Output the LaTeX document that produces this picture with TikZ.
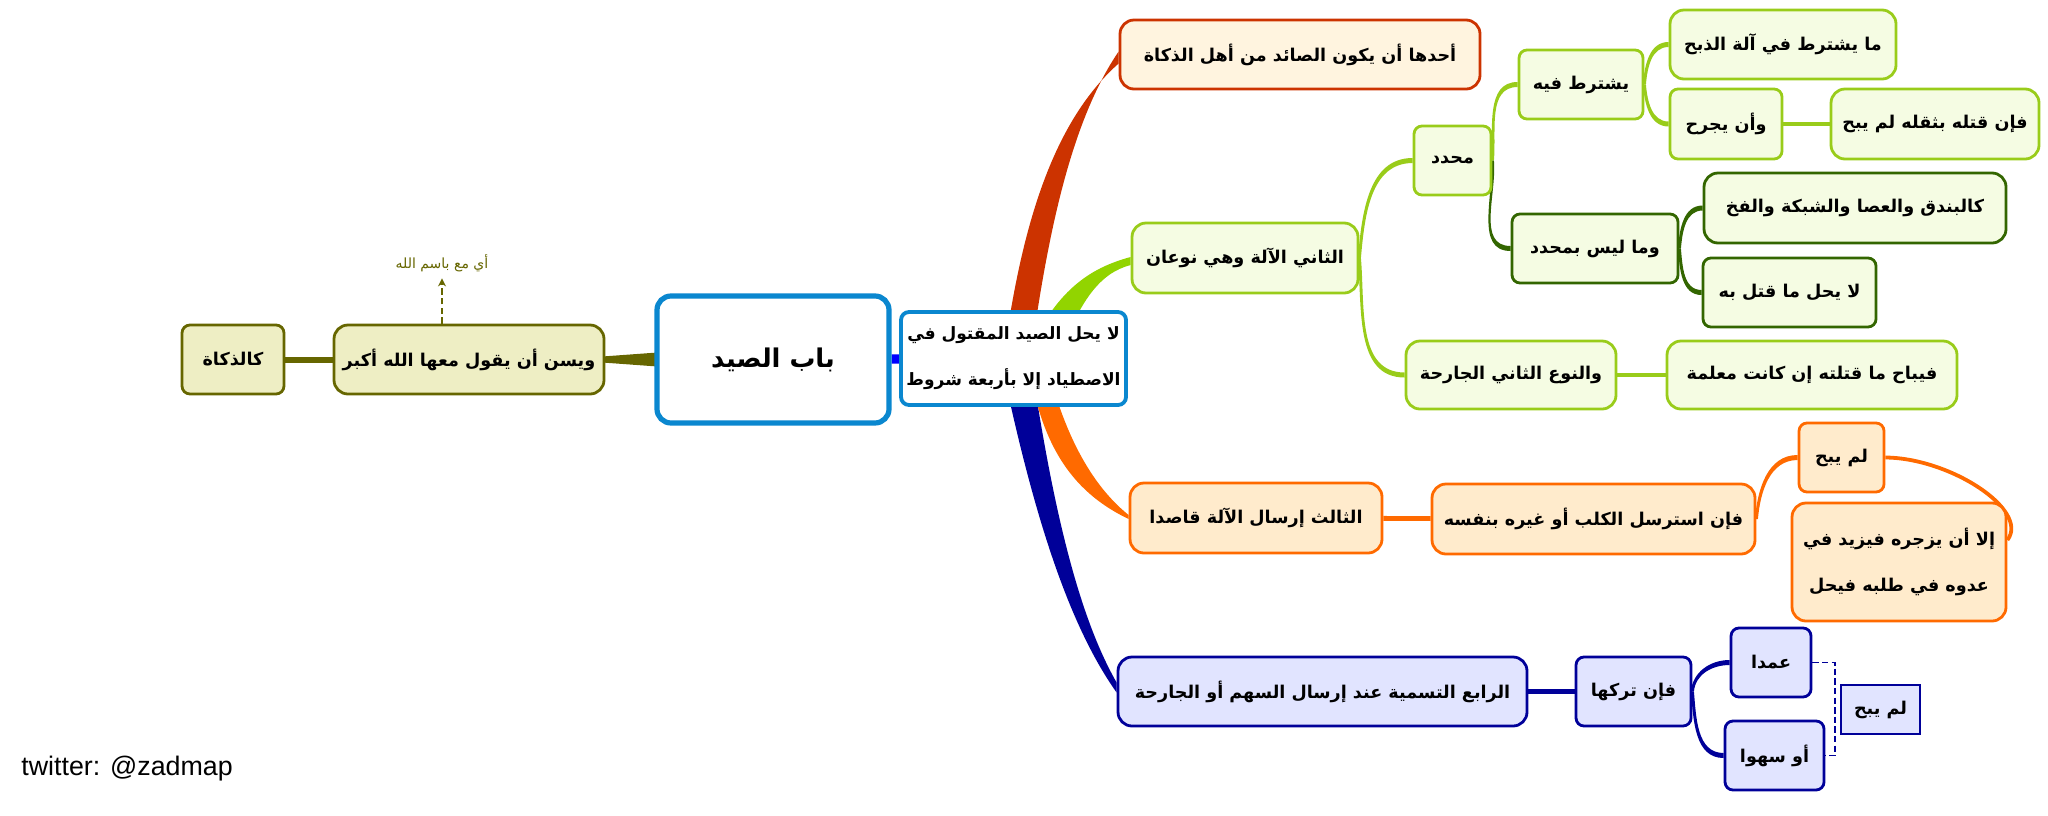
\documentclass[tikz,border=0pt]{standalone}
\usepackage{fontspec}
\setmainfont{Liberation Sans}
\newfontfamily\arabicfont[Script=Arabic]{DejaVu Sans}
\TeXXeTstate=1
\usetikzlibrary{positioning, arrows.meta, calc, backgrounds}
\newcommand{\artext}[1]{{\arabicfont\bfseries\beginR #1\endR}}
\newcommand{\twigup}[3]{\fill[#1] ($(#2)+(-1.5,0)$) to[out=85,in=180] ($(#3)+(0,-2.5)$) -- ($(#3)+(0,2.5)$) to[out=180,in=85] ($(#2)+(1.5,0)$) -- cycle;}
\newcommand{\twigdown}[3]{\fill[#1] ($(#2)+(-1.5,0)$) to[out=-85,in=180] ($(#3)+(0,2.5)$) -- ($(#3)+(0,-2.5)$) to[out=180,in=-85] ($(#2)+(1.5,0)$) -- cycle;}
\definecolor{rootblue}{HTML}{0A87CF}
\definecolor{redline}{HTML}{CC3300}
\definecolor{redfill}{HTML}{FFF4DF}
\definecolor{limeline}{HTML}{99CC1A}
\definecolor{limeband}{HTML}{92D400}
\definecolor{limefill}{HTML}{F5FCE3}
\definecolor{darkline}{HTML}{336600}
\definecolor{orangeline}{HTML}{FF6A00}
\definecolor{orangefill}{HTML}{FFEBCC}
\definecolor{navyline}{HTML}{000099}
\definecolor{navyfill}{HTML}{E1E4FF}
\definecolor{oliveline}{HTML}{666600}
\definecolor{olivefill}{HTML}{EEEEC4}
\tikzset{
  boxsize/.style 2 args={
    minimum width=#1*0.5pt,
    minimum height=#2*0.5pt
  },
  topic/.style={
    draw,
    rectangle,
    rounded corners=7pt,
    line width=1.4pt,
    inner sep=0pt,
    align=center,
    font=\fontsize{8.8}{23}\selectfont
  },
  smallbox/.style={rounded corners=4pt},
  redbox/.style={topic, draw=redline, fill=redfill},
  limebox/.style={topic, draw=limeline, fill=limefill},
  darkbox/.style={topic, draw=darkline, fill=limefill},
  orangebox/.style={topic, draw=orangeline, fill=orangefill},
  navybox/.style={topic, draw=navyline, fill=navyfill},
  olivebox/.style={topic, draw=oliveline, fill=olivefill},
  notelink/.style={line width=0.8pt, dash pattern=on 3.2pt off 1.6pt}
}

\begin{document}
\begin{tikzpicture}[x=0.5pt, y=-0.5pt]
        \useasboundingbox (0,0) rectangle (2048,815);

        \node[topic, draw=rootblue, fill=white, line width=2.6pt, boxsize={232}{127}, font=\fontsize{12.9}{20}\selectfont] (root) at (773,359.5) {\artext{باب الصيد}};
        \node[topic, draw=rootblue, fill=white, line width=1.9pt, smallbox, boxsize={225}{93}, font=\fontsize{8.5}{23}\selectfont] (main) at (1013.5,358.5) {\artext{لا يحل الصيد المقتول في}\\\artext{الاصطياد إلا بأربعة شروط}};

        \node[redbox, boxsize={360}{69}] (first) at (1300,54.5) {\artext{أحدها أن يكون الصائد من أهل الذكاة}};

        \node[limebox, boxsize={226}{70}] (second) at (1245,258) {\artext{الثاني الآلة وهي نوعان}};
        \node[limebox, smallbox, boxsize={77}{69}] (sharp) at (1452.5,160.5) {\artext{محدد}};
        \node[limebox, smallbox, boxsize={124}{69}] (cond) at (1581,84.5) {\artext{يشترط فيه}};
        \node[limebox, boxsize={226}{69}] (tool) at (1783,44.5) {\artext{ما يشترط في آلة الذبح}};
        \node[limebox, smallbox, boxsize={112}{70}] (wound) at (1726,124) {\artext{وأن يجرح}};
        \node[limebox, boxsize={208}{70}] (weight) at (1935,124) {\artext{فإن قتله بثقله لم يبح}};
        \node[darkbox, smallbox, boxsize={166}{69}] (blunt) at (1595,248.5) {\artext{وما ليس بمحدد}};
        \node[darkbox, boxsize={302}{70}] (pellet) at (1855,208) {\artext{كالبندق والعصا والشبكة والفخ}};
        \node[darkbox, smallbox, boxsize={173}{69}] (killed) at (1789.5,292.5) {\artext{لا يحل ما قتل به}};
        \node[limebox, boxsize={210}{68}] (beast) at (1511,375) {\artext{والنوع الثاني الجارحة}};
        \node[limebox, boxsize={290}{68}] (trained) at (1812,375) {\artext{فيباح ما قتلته إن كانت معلمة}};

        \node[orangebox, boxsize={252}{70}] (third) at (1256,518) {\artext{الثالث إرسال الآلة قاصدا}};
        \node[orangebox, boxsize={323}{70}] (dog) at (1593.5,519) {\artext{فإن استرسل الكلب أو غيره بنفسه}};
        \node[orangebox, smallbox, boxsize={85}{69}] (notok) at (1841.5,457.5) {\artext{لم يبح}};
        \node[orangebox, boxsize={214}{118}] (urge) at (1899,562) {\artext{إلا أن يزجره فيزيد في}\\\artext{عدوه في طلبه فيحل}};

        \node[navybox, boxsize={409}{69}] (fourth) at (1322.5,691.5) {\artext{الرابع التسمية عند إرسال السهم أو الجارحة}};
        \node[navybox, smallbox, boxsize={115}{69}] (left) at (1633.5,691.5) {\artext{فإن تركها}};
        \node[navybox, smallbox, boxsize={80}{69}] (purpose) at (1771,662.5) {\artext{عمدا}};
        \node[navybox, smallbox, boxsize={99}{69}] (forgot) at (1774.5,755.5) {\artext{أو سهوا}};
        \node[navybox, rounded corners=0pt, line width=0.8pt, boxsize={79}{49}] (notok2) at (1880.5,709.5) {\artext{لم يبح}};
        \coordinate (bracket) at (1835,709.5);

        \node[olivebox, boxsize={270}{69}] (sunna) at (469,359.5) {\artext{ويسن أن يقول معها الله أكبر}};
        \node[olivebox, smallbox, boxsize={102}{69}] (slaughter) at (233,359.5) {\artext{كالذكاة}};
        \node[inner sep=0pt, boxsize={120}{30}, text=oliveline, font=\fontsize{7}{9}\selectfont] (note) at (442,263) {{\arabicfont\beginR أي مع باسم الله\endR}};

        \node[anchor=west, inner sep=0pt, font=\fontsize{13.4}{18}\selectfont] (credit) at (21,769) {twitter: @zadmap};

        \draw[oliveline, notelink, -{Stealth[length=4pt,width=4pt]}] (sunna.north -| note) -- (note);
        \draw[navyline, notelink] (purpose.east) -| (bracket) |- (forgot.east);

        \begin{scope}[on background layer]
          % thick branches out of the centre
          \fill[redline] ($(main.center)+(-10,0)$) .. controls (1022,220) and (1055,120) .. ($(first.west)+(0,9)$) -- ($(first.west)+(0,-3)$) .. controls (1072,120) and (1048,230) .. ($(main.center)+(17,0)$) -- cycle;
          \fill[limeband] ($(main.center)+(12,0)$) .. controls (1055,290) and (1090,268) .. ($(second.west)+(0,-1)$) -- ($(second.west)+(0,7)$) .. controls (1100,273) and (1080,300) .. ($(main.center)+(45,0)$) -- cycle;
          \fill[navyline] ($(main.center)+(-13,0)$) .. controls (1030,500) and (1065,620) .. ($(fourth.west)+(0,1)$) -- ($(fourth.west)+(0,-9)$) .. controls (1075,610) and (1050,490) .. ($(main.center)+(17,0)$) -- cycle;
          \fill[orangeline] ($(main.center)+(14,0)$) .. controls (1040,440) and (1068,490) .. ($(third.west)+(0,1)$) -- ($(third.west)+(0,-3)$) .. controls (1085,480) and (1060,420) .. ($(main.center)+(32,0)$) -- cycle;
          \fill[oliveline] ($(root.west)+(3,-7)$) -- ($(sunna.east)+(-3,-3)$) -- ($(sunna.east)+(-3,3)$) -- ($(root.west)+(3,7)$) -- cycle;
          \draw[blue, line width=4.6pt] (root) -- (main);
          \draw[oliveline, line width=3pt] (slaughter) -- (sunna);

          % thin branches
          \twigup{limeline}{second.east}{sharp.west}
          \twigdown{limeline}{second.east}{beast.west}
          \twigup{limeline}{sharp.east}{cond.west}
          \twigdown{darkline}{sharp.east}{blunt.west}
          \twigup{limeline}{cond.east}{tool.west}
          \twigdown{limeline}{cond.east}{wound.west}
          \draw[limeline, line width=2.4pt] (wound) -- (weight);
          \twigup{darkline}{blunt.east}{pellet.west}
          \twigdown{darkline}{blunt.east}{killed.west}
          \draw[limeline, line width=2.4pt] (beast) -- (trained);
          \draw[orangeline, line width=2.4pt] (third) -- (dog);
          \twigup{orangeline}{dog.east}{notok.west}
          \draw[orangeline, line width=1.9pt] (notok.east) .. controls (1950,458) and (2030,510) .. ($(urge.east)+(0,-22)$);
          \draw[navyline, line width=2.4pt] (fourth) -- (left);
          \twigup{navyline}{left.east}{purpose.west}
          \twigdown{navyline}{left.east}{forgot.west}
        \end{scope}
      \end{tikzpicture}
\end{document}
